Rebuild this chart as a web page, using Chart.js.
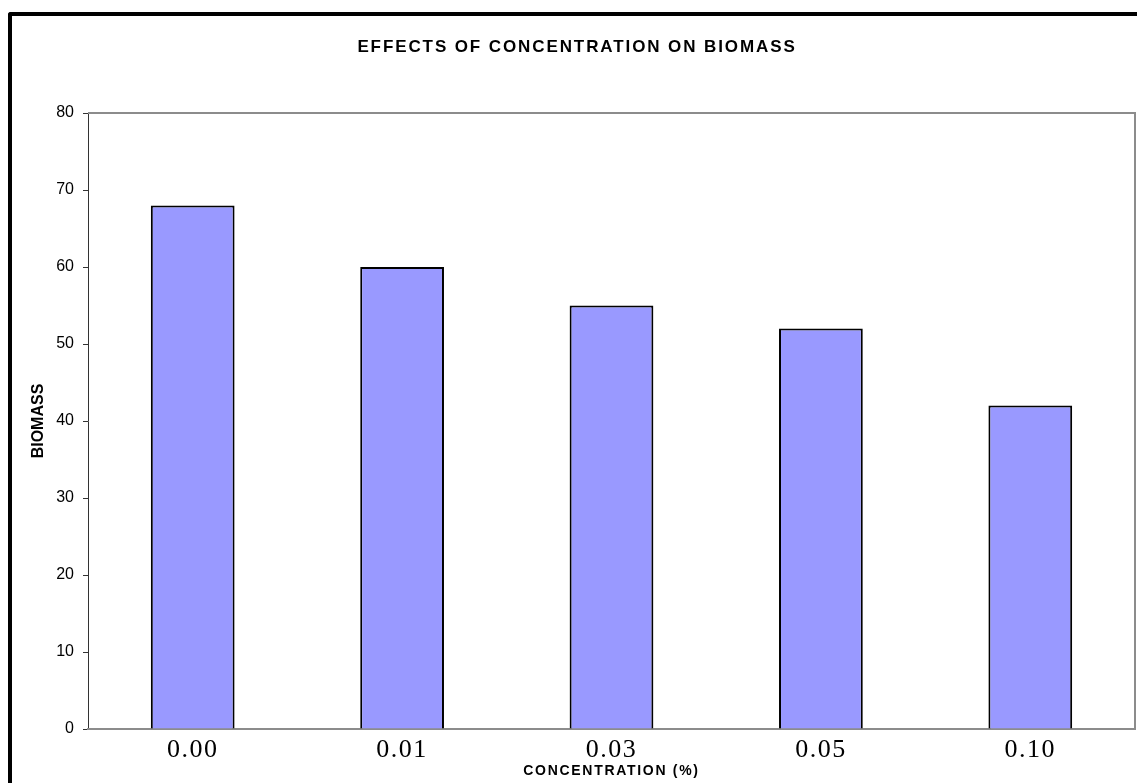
<!DOCTYPE html>
<html>
<head>
<meta charset="utf-8">
<script src="https://cdn.jsdelivr.net/npm/chart.js@4/dist/chart.umd.min.js"></script>
<style>
  html, body { margin: 0; padding: 0; background: #fff; overflow: hidden; width: 1137px; height: 783px; }
  #frame { position: absolute; left: 8px; top: 12px; width: 1300px; height: 1000px;
           border-left: 4px solid #000; border-top: 4px solid #000; border-top-left-radius: 3px; }
  #wrap { position: absolute; left: 0; top: 0; width: 1137px; height: 783px; }
</style>
</head>
<body>
<div id="frame"></div>
<div id="wrap"><canvas id="c" width="1137" height="783"></canvas></div>
<script>
const categories = ['0.00', '0.01', '0.03', '0.05', '0.10'];
const biomass = [68, 60, 55, 52, 42];
const yTicks = [0, 10, 20, 30, 40, 50, 60, 70, 80];

function spaced(obj, method, spacing) {
  const orig = obj[method];
  obj[method] = function () {
    const c = this.ctx;
    c.save();
    c.letterSpacing = spacing;
    const r = orig.apply(this, arguments);
    c.restore();
    return r;
  };
}

const spacingPlugin = {
  id: 'spacing',
  beforeDraw(chart) {
    const sx = chart.scales.x;
    if (sx && !sx._sp) {
      spaced(sx, 'drawLabels', '1.5px');
      spaced(sx, 'drawTitle', '1.7px');
      sx._sp = true;
    }
    const tb = chart.titleBlock;
    if (tb && !tb._sp) {
      spaced(tb, 'draw', '1.9px');
      tb._sp = true;
    }
  }
};

const plotBorder = {
  id: 'plotBorder',
  beforeDatasetsDraw(chart) {
    const a = chart.chartArea, c = chart.ctx;
    c.save();
    c.strokeStyle = '#8c8c8c';
    c.lineWidth = 2;
    c.beginPath();
    c.moveTo(a.left, a.top);
    c.lineTo(a.right, a.top);
    c.lineTo(a.right, a.bottom);
    c.lineTo(a.left, a.bottom);
    c.stroke();
    c.restore();
  }
};

new Chart(document.getElementById('c'), {
  type: 'bar',
  data: {
    labels: categories,
    datasets: [{
      data: biomass,
      backgroundColor: '#9999FF',
      borderColor: '#000000',
      borderWidth: 2,
      barPercentage: 0.4,
      categoryPercentage: 1.0
    }]
  },
  options: {
    responsive: false,
    animation: false,
    layout: { padding: { left: 19, right: 2, top: 0, bottom: 0 } },
    plugins: {
      legend: { display: false },
      tooltip: { enabled: false },
      title: {
        display: true,
        text: 'EFFECTS OF CONCENTRATION ON BIOMASS',
        color: '#000',
        font: { family: 'Liberation Sans, Arial, sans-serif', size: 17, weight: 'bold', lineHeight: 1.2 },
        padding: { top: 37, bottom: 55.6 }
      }
    },
    scales: {
      x: {
        grid: { display: true, drawOnChartArea: false, drawTicks: false, color: 'rgba(0,0,0,0)' },
        border: { display: true, color: '#8c8c8c', width: 2 },
        ticks: {
          color: '#000',
          padding: 6,
          maxRotation: 0,
          font: { family: 'Liberation Serif, Times New Roman, serif', size: 26 }
        },
        title: {
          display: true,
          text: 'CONCENTRATION (%)',
          color: '#000',
          font: { family: 'Liberation Sans, Arial, sans-serif', size: 14, weight: 'bold', lineHeight: 1.2 },
          padding: { top: 0, bottom: 3 }
        },
        afterFit(s) { s.height = 54; }
      },
      y: {
        min: 0,
        max: 80,
        afterBuildTicks(s) { s.ticks = yTicks.map(v => ({ value: v })); },
        grid: { display: true, drawOnChartArea: false, drawTicks: true, tickLength: 5, color: '#333' },
        border: { display: true, color: '#333', width: 1 },
        ticks: {
          color: '#000',
          padding: 9,
          font: { family: 'Liberation Sans, Arial, sans-serif', size: 16 }
        },
        title: {
          display: true,
          text: 'BIOMASS',
          color: '#000',
          font: { family: 'Liberation Sans, Arial, sans-serif', size: 16, weight: 'bold', lineHeight: 1.2 },
          padding: { top: 10, bottom: 0 }
        },
        afterFit(s) { s.width = 69; }
      }
    }
  },
  plugins: [spacingPlugin, plotBorder]
});
</script>
</body>
</html>
